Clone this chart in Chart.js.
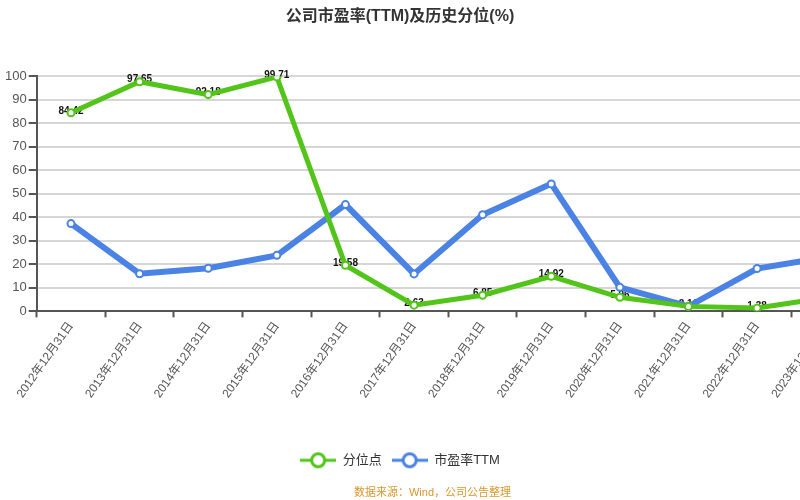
<!DOCTYPE html>
<html>
<head>
<meta charset="utf-8">
<script src="https://cdn.jsdelivr.net/npm/chart.js@4"></script>
<style>
  html, body { margin: 0; padding: 0; background: #fff; }
  #wrap { width: 800px; height: 500px; overflow: hidden; position: relative; }
  #chart { display: block; }
</style>
</head>
<body>
<div id="wrap"><canvas id="chart" width="866" height="500"></canvas></div>
<script>
// --- DATA ---
const categories = ['2012年12月31日', '2013年12月31日', '2014年12月31日', '2015年12月31日',
  '2016年12月31日', '2017年12月31日', '2018年12月31日', '2019年12月31日',
  '2020年12月31日', '2021年12月31日', '2022年12月31日', '2023年12月31日'];
const percentileValues = [84.42, 97.65, 92.18, 99.71, 19.58, 2.63, 6.85, 14.92, 5.96, 2.10, 1.38, 5.80];
const peValues = [37.3, 16.0, 18.3, 23.8, 45.4, 15.9, 41.1, 54.2, 10.2, 2.1, 18.2, 23.0];
const yTicks = [0, 10, 20, 30, 40, 50, 60, 70, 80, 90, 100];
const seriesNames = ['分位点', '市盈率TTM'];
const titleText = '公司市盈率(TTM)及历史分位(%)';
const sourceText = '数据来源：Wind，公司公告整理';

const GREEN = '#52c41a';
const BLUE = '#4a83e4';
const COLORS = [GREEN, BLUE];

Chart.defaults.font.family = "'Liberation Sans', 'Noto Sans CJK SC', sans-serif";

// legend marker: short line with a ring in the middle
function legendMarker(color) {
  const c = document.createElement('canvas');
  c.width = 36; c.height = 18;
  const g = c.getContext('2d');
  g.strokeStyle = color;
  g.lineWidth = 3;
  g.beginPath(); g.moveTo(0, 9); g.lineTo(36, 9); g.stroke();
  g.beginPath(); g.arc(18, 9, 6.5, 0, Math.PI * 2);
  g.fillStyle = '#fff'; g.fill();
  g.lineWidth = 3; g.stroke();
  return c;
}
const markers = COLORS.map(legendMarker);

// value labels for the percentile series, drawn under the lines
const valueLabels = {
  id: 'valueLabels',
  beforeDatasetsDraw(chart) {
    const meta = chart.getDatasetMeta(0);
    const ctx = chart.ctx;
    ctx.save();
    ctx.font = "bold 10px 'Liberation Sans', sans-serif";
    ctx.fillStyle = '#111';
    ctx.textAlign = 'center';
    ctx.textBaseline = 'middle';
    meta.data.forEach((pt, i) => {
      ctx.fillText(percentileValues[i].toFixed(2), pt.x, pt.y - 2);
    });
    ctx.restore();
  }
};

// keep title / legend / source centred on the visible 800px
const recenter = {
  id: 'recenter',
  afterLayout(chart) {
    [chart.titleBlock, chart.legend, chart.subtitleBlock].forEach(b => {
      if (b) { b.left = 0; b.right = 800; b.width = 800; }
    });
  }
};

new Chart(document.getElementById('chart'), {
  type: 'line',
  data: {
    labels: categories,
    datasets: [
      {
        label: seriesNames[0], data: percentileValues,
        borderColor: GREEN, backgroundColor: '#fff', borderWidth: 5,
        pointRadius: 3.5, pointBorderWidth: 2, pointBorderColor: GREEN, pointBackgroundColor: '#fff',
        pointStyle: 'circle', tension: 0
      },
      {
        label: seriesNames[1], data: peValues,
        borderColor: BLUE, backgroundColor: '#fff', borderWidth: 6,
        pointRadius: 3.5, pointBorderWidth: 2, pointBorderColor: BLUE, pointBackgroundColor: '#fff',
        pointStyle: 'circle', tension: 0
      }
    ]
  },
  options: {
    responsive: false, animation: false,
    layout: { padding: { left: 3, right: 4, top: 0, bottom: 0 } },
    scales: {
      x: {
        offset: true,
        afterFit: axis => { axis.height += 41; },
        grid: { offset: true, drawOnChartArea: false, tickLength: 6, tickColor: '#555', tickWidth: 2 },
        border: { color: '#555', width: 2 },
        ticks: { minRotation: 55, maxRotation: 55, autoSkip: false, color: '#555', font: { size: 12 }, padding: 2 }
      },
      y: {
        min: 0, max: 100,
        afterBuildTicks: axis => { axis.ticks = yTicks.map(v => ({ value: v })); },
        grid: { color: '#d6d6d6', lineWidth: 2, tickLength: 8, tickColor: '#555', tickWidth: 2 },
        border: { color: '#555', width: 2 },
        ticks: { color: '#555', font: { size: 13 }, padding: 2 }
      }
    },
    plugins: {
      title: {
        display: true, text: titleText, color: '#333',
        font: { size: 16, weight: 'bold' }, padding: { top: 7, bottom: 50 }
      },
      subtitle: {
        display: true, position: 'bottom', text: sourceText, color: '#d9962b',
        font: { size: 11 }, padding: { top: 10, bottom: 0 }
      },
      legend: {
        position: 'bottom',
        labels: {
          usePointStyle: true, pointStyleWidth: 36, color: '#333', font: { size: 13 }, padding: 10,
          generateLabels: chart => Chart.defaults.plugins.legend.labels.generateLabels(chart)
            .map(item => Object.assign(item, { pointStyle: markers[item.datasetIndex] }))
        }
      },
      tooltip: { enabled: false }
    }
  },
  plugins: [valueLabels, recenter]
});
</script>
</body>
</html>
